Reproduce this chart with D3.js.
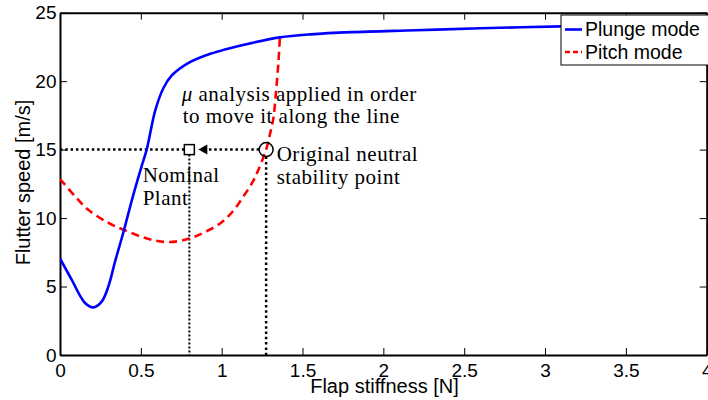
<!DOCTYPE html>
<html>
<head>
<meta charset="utf-8">
<script src="https://cdn.jsdelivr.net/npm/d3@7"></script>
<style>
  html, body { margin: 0; padding: 0; background: #fff; }
  svg { display: block; }
  .axis text { font-family: "Liberation Sans", Arial, sans-serif; font-size: 19px; fill: #000; }
  .note { font-family: "Liberation Serif", "Times New Roman", serif; font-size: 21px; letter-spacing: 0.5px; fill: #000; }
</style>
</head>
<body>
<div id="chart"></div>
<script>
// global constants
const W = 708;
const H = 400;
const MARGIN = { top: 12.7, right: 1.3, bottom: 45, left: 60 };
const PLOT_W = W - MARGIN.left - MARGIN.right;
const PLOT_H = H - MARGIN.top - MARGIN.bottom;

// data
const xTicks = [0, 0.5, 1, 1.5, 2, 2.5, 3, 3.5, 4];
const yTicks = [0, 5, 10, 15, 20, 25];

const plungeX = [0, 0.072, 0.155, 0.206, 0.258, 0.299, 0.34, 0.396, 0.45, 0.5, 0.536, 0.59, 0.64, 0.69, 0.79, 0.93, 1.175, 1.36, 1.55, 1.8, 2.2, 2.6, 3.1, 3.5, 4.0];
const plungeY = [7.05, 5.5, 3.8, 3.48, 3.9, 5.0, 6.8, 9.13, 11.55, 13.6, 15.0, 17.9, 19.5, 20.4, 21.3, 22.0, 22.76, 23.2, 23.42, 23.58, 23.72, 23.86, 24.0, 24.05, 24.1];

const pitchX = [0, 0.1, 0.175, 0.3, 0.396, 0.5, 0.59, 0.68, 0.8, 0.9, 0.99, 1.07, 1.13, 1.19, 1.226, 1.275, 1.30, 1.32, 1.335, 1.35, 1.36];
const pitchY = [12.85, 11.5, 10.6, 9.65, 9.13, 8.65, 8.35, 8.25, 8.5, 9.0, 9.6, 10.5, 11.5, 12.6, 13.5, 15.0, 16.2, 17.3, 19.1, 21.2, 23.2];

const nominalPoint = [0.8, 15];
const originalPoint = [1.275, 15];

const seriesNames = ["Plunge mode", "Pitch mode"];
const seriesColors = ["#0000ff", "#ff0000"];

function main() {
  const svg = d3.select("#chart")
    .append("svg")
    .attr("width", W)
    .attr("height", H);

  const x = d3.scaleLinear().domain([0, 4]).range([MARGIN.left, MARGIN.left + PLOT_W]);
  const y = d3.scaleLinear().domain([0, 25]).range([MARGIN.top + PLOT_H, MARGIN.top]);

  svg.append("clipPath").attr("id", "plotClip")
    .append("rect")
    .attr("x", MARGIN.left).attr("y", MARGIN.top)
    .attr("width", PLOT_W).attr("height", PLOT_H);

  // axes (box with inward ticks)
  const bottom = svg.append("g").attr("class", "axis")
    .attr("transform", `translate(0,${y(0)})`)
    .call(d3.axisBottom(x).tickValues(xTicks).tickFormat(d => d).tickSizeInner(-7).tickSizeOuter(0).tickPadding(8.5));
  const left = svg.append("g").attr("class", "axis")
    .attr("transform", `translate(${x(0)},0)`)
    .call(d3.axisLeft(y).tickValues(yTicks).tickFormat(d => d).tickSizeInner(-7).tickSizeOuter(0).tickPadding(3.5));
  const top = svg.append("g").attr("class", "axis")
    .attr("transform", `translate(0,${y(25)})`)
    .call(d3.axisTop(x).tickValues(xTicks).tickFormat("").tickSizeInner(-7).tickSizeOuter(0));
  const right = svg.append("g").attr("class", "axis")
    .attr("transform", `translate(${x(4)},0)`)
    .call(d3.axisRight(y).tickValues(yTicks).tickFormat("").tickSizeInner(-7).tickSizeOuter(0));
  [bottom, left, top, right].forEach(g => {
    g.select(".domain").attr("stroke", "#000").attr("stroke-width", 2);
    g.selectAll(".tick line").attr("stroke", "#000").attr("stroke-width", 1);
  });

  // axis labels
  svg.append("text")
    .attr("x", 384.5).attr("y", 392.7)
    .attr("text-anchor", "middle")
    .style("font-family", "'Liberation Sans', Arial, sans-serif")
    .style("font-size", "20px")
    .text("Flap stiffness [N]");
  svg.append("text")
    .attr("transform", "translate(29.5,182.5) rotate(-90)")
    .attr("text-anchor", "middle")
    .style("font-family", "'Liberation Sans', Arial, sans-serif")
    .style("font-size", "20px")
    .text("Flutter speed [m/s]");

  // dotted guide lines
  const dotted = svg.append("g").attr("stroke", "#000").attr("fill", "none");
  const sx = x(nominalPoint[0]), sy = y(nominalPoint[1]);
  const cx = x(originalPoint[0]), cy = y(originalPoint[1]);
  dotted.append("line")
    .attr("x1", x(0)).attr("x2", sx - 5).attr("y1", sy).attr("y2", sy)
    .attr("stroke-width", 2.5).attr("stroke-dasharray", "2.5,2.8");
  dotted.append("line")
    .attr("x1", sx).attr("x2", sx).attr("y1", sy + 5).attr("y2", y(0))
    .attr("stroke-width", 2).attr("stroke-dasharray", "2,2");
  dotted.append("line")
    .attr("x1", cx).attr("x2", cx).attr("y1", cy + 7).attr("y2", y(0))
    .attr("stroke-width", 2.5).attr("stroke-dasharray", "2.5,2.8");
  dotted.append("line")
    .attr("x1", cx - 7).attr("x2", sx + 16).attr("y1", sy).attr("y2", sy)
    .attr("stroke-width", 2.5).attr("stroke-dasharray", "2.5,2.8");
  // arrow head
  svg.append("path")
    .attr("d", `M${sx + 9},${sy} L${sx + 18},${sy - 5} L${sx + 18},${sy + 5} Z`)
    .attr("fill", "#000");

  // curves
  const line = d3.line()
    .x(d => x(d[0]))
    .y(d => y(d[1]))
    .curve(d3.curveCatmullRom.alpha(0.5));
  const curves = svg.append("g").attr("clip-path", "url(#plotClip)");
  curves.append("path")
    .datum(pitchX.map((v, i) => [v, pitchY[i]]))
    .attr("d", line)
    .attr("fill", "none")
    .attr("stroke", seriesColors[1])
    .attr("stroke-width", 2.6)
    .attr("stroke-dasharray", "8,5");
  curves.append("path")
    .datum(plungeX.map((v, i) => [v, plungeY[i]]))
    .attr("d", line)
    .attr("fill", "none")
    .attr("stroke", seriesColors[0])
    .attr("stroke-width", 2.6);

  // markers
  svg.append("rect")
    .attr("x", sx - 5).attr("y", sy - 5).attr("width", 10).attr("height", 10)
    .attr("fill", "none").attr("stroke", "#000").attr("stroke-width", 1.5);
  svg.append("circle")
    .attr("cx", cx).attr("cy", cy).attr("r", 7)
    .attr("fill", "none").attr("stroke", "#000").attr("stroke-width", 1.5);

  // annotations
  const l1 = svg.append("text").attr("class", "note").attr("x", 181.7).attr("y", 100.7);
  l1.append("tspan").style("font-style", "italic").text("\u03bc");
  l1.append("tspan").text(" analysis applied in order");
  svg.append("text").attr("class", "note").attr("x", 182.7).attr("y", 123.3).text("to move it along the line");
  svg.append("text").attr("class", "note").attr("x", cx + 10.5).attr("y", 160.7).text("Original neutral");
  svg.append("text").attr("class", "note").attr("x", cx + 10.5).attr("y", 184.3).text("stability point");
  svg.append("text").attr("class", "note").attr("x", 142.7).attr("y", 181.7).text("Nominal");
  svg.append("text").attr("class", "note").attr("x", 142.7).attr("y", 205.3).text("Plant");

  // legend
  const legend = svg.append("g");
  legend.append("rect")
    .attr("x", 561).attr("y", 15).attr("width", 170).attr("height", 50)
    .attr("fill", "#fff").attr("stroke", "#000").attr("stroke-width", 1);
  seriesNames.forEach((name, i) => {
    const ly = 29.5 + i * 22.5;
    legend.append("line")
      .attr("x1", 565).attr("x2", 582).attr("y1", ly).attr("y2", ly)
      .attr("stroke", seriesColors[i]).attr("stroke-width", 2.6)
      .attr("stroke-dasharray", i === 1 ? "5,3" : null);
    legend.append("text")
      .attr("x", 585).attr("y", ly + 6.8)
      .style("font-family", "'Liberation Sans', Arial, sans-serif")
      .style("font-size", "19.5px")
      .text(name);
  });
}

main();
</script>
</body>
</html>
